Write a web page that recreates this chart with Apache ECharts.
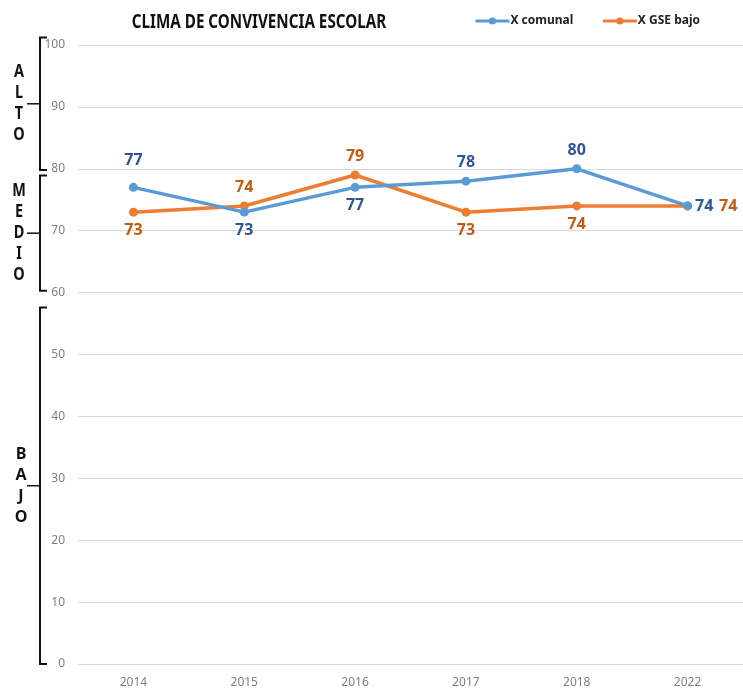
<!DOCTYPE html>
<html>
<head>
<meta charset="utf-8">
<script src="https://cdn.jsdelivr.net/npm/echarts@6/dist/echarts.min.js"></script>
<style>
  html, body { margin: 0; padding: 0; background: #fff; }
  #main { width: 743px; height: 689px; }
</style>
</head>
<body>
<div id="main"></div>
<script>
  var years = ['2014', '2015', '2016', '2017', '2018', '2022'];
  var comunal = [77, 73, 77, 78, 80, 74];
  var gseBajo = [73, 74, 79, 73, 74, 74];
  // where each value label sits
  var comunalPos = ['top', 'bottom', 'bottom', 'top', 'top', 'right'];
  var gsePos = ['bottom', 'top', 'top', 'bottom', 'bottom', 'right'];
  var yTicks = { min: 0, max: 100, step: 10 };
  var chartTitle = 'CLIMA DE CONVIVENCIA ESCOLAR';
  // bands drawn at the left
  var bandNames = ['ALTO', 'MEDIO', 'BAJO'];
  var bandTop = [101.2, 78.9, 57.6];
  var bandBottom = [79.8, 60.3, 0];

  var family = '"Noto Sans", sans-serif';

  function items(values, pos, dist) {
    return values.map(function (v, i) {
      var d = pos[i] == 'right' ? dist.right : dist.other;
      if (i == 0 && pos[i] == 'top') d = 14;
      return { value: v, label: { position: pos[i], distance: d } };
    });
  }

  var myChart = echarts.init(document.getElementById('main'));
  myChart.setOption({
    animation: false,
    textStyle: { fontFamily: family },
    legend: {
      top: 10,
      right: 38,
      itemWidth: 34,
      itemHeight: 9,
      itemGap: 28,
      lineStyle: { width: 3 },
      textStyle: { fontSize: 12, fontWeight: 'bold', color: '#222', fontFamily: family, padding: [0, 0, 0, -4] }
    },
    grid: { left: 78, right: 0, top: 45, bottom: 25 },
    xAxis: {
      type: 'category',
      data: years,
      axisTick: { show: false },
      axisLine: { lineStyle: { color: '#d9d9d9', width: 1 } },
      axisLabel: { color: '#7f7f7f', fontSize: 12, margin: 13, fontFamily: family }
    },
    yAxis: {
      type: 'value',
      min: yTicks.min,
      max: yTicks.max,
      interval: yTicks.step,
      axisLine: { show: false },
      axisTick: { show: false },
      axisLabel: { color: '#7f7f7f', fontSize: 12, margin: 13, fontFamily: family },
      splitLine: { lineStyle: { color: '#d9d9d9', width: 1 } }
    },
    series: [
      {
        name: 'X comunal',
        type: 'line',
        data: items(comunal, comunalPos, { right: 3, other: 6 }),
        symbol: 'circle',
        symbolSize: 9,
        itemStyle: { color: '#5b9bd5' },
        lineStyle: { width: 3.5, color: '#5b9bd5' },
        label: { show: true, fontSize: 16, fontWeight: 'bold', color: '#2f5597', fontFamily: family },
        z: 3
      },
      {
        name: 'X GSE bajo',
        type: 'line',
        data: items(gseBajo, gsePos, { right: 27, other: 6 }),
        symbol: 'circle',
        symbolSize: 9,
        itemStyle: { color: '#ed7d31' },
        lineStyle: { width: 3.5, color: '#ed7d31' },
        label: { show: true, fontSize: 16, fontWeight: 'bold', color: '#c55a11', fontFamily: family },
        z: 2
      }
    ]
  });

  // title squeezed sideways to get the condensed look of the original
  var graphics = [{
    type: 'text',
    x: 259,
    y: 23,
    scaleX: 0.8,
    style: {
      text: chartTitle,
      align: 'center',
      verticalAlign: 'middle',
      fontSize: 19,
      fontWeight: 'bold',
      fontFamily: family,
      fill: '#111'
    }
  }];

  // brackets with the band names on the left
  var bx = 40;
  bandNames.forEach(function (name, i) {
    var t = myChart.convertToPixel({ yAxisIndex: 0 }, bandTop[i]);
    var b = myChart.convertToPixel({ yAxisIndex: 0 }, bandBottom[i]);
    var m = (t + b) / 2;
    graphics.push({
      type: 'polyline',
      shape: { points: [[bx + 7, t], [bx, t], [bx, b], [bx + 7, b]] },
      style: { stroke: '#111', lineWidth: 2, fill: null }
    });
    graphics.push({
      type: 'line',
      shape: { x1: bx - 13, y1: m, x2: bx, y2: m },
      style: { stroke: '#111', lineWidth: 1.5 }
    });
    var isBajo = name == 'BAJO';
    graphics.push({
      type: 'text',
      x: isBajo ? 21 : 19,
      y: m,
      scaleX: isBajo ? 1 : 0.85,
      style: {
        text: name.split('').join('\n'),
        align: 'center',
        verticalAlign: 'middle',
        lineHeight: 21,
        fontSize: isBajo ? 16 : 17,
        fontWeight: 'bold',
        fontFamily: isBajo ? '"Open Sans", sans-serif' : family,
        fill: '#111'
      }
    });
  });
  myChart.setOption({ graphic: graphics });

  window.onresize = function () {
    myChart.resize();
  };
</script>
</body>
</html>
